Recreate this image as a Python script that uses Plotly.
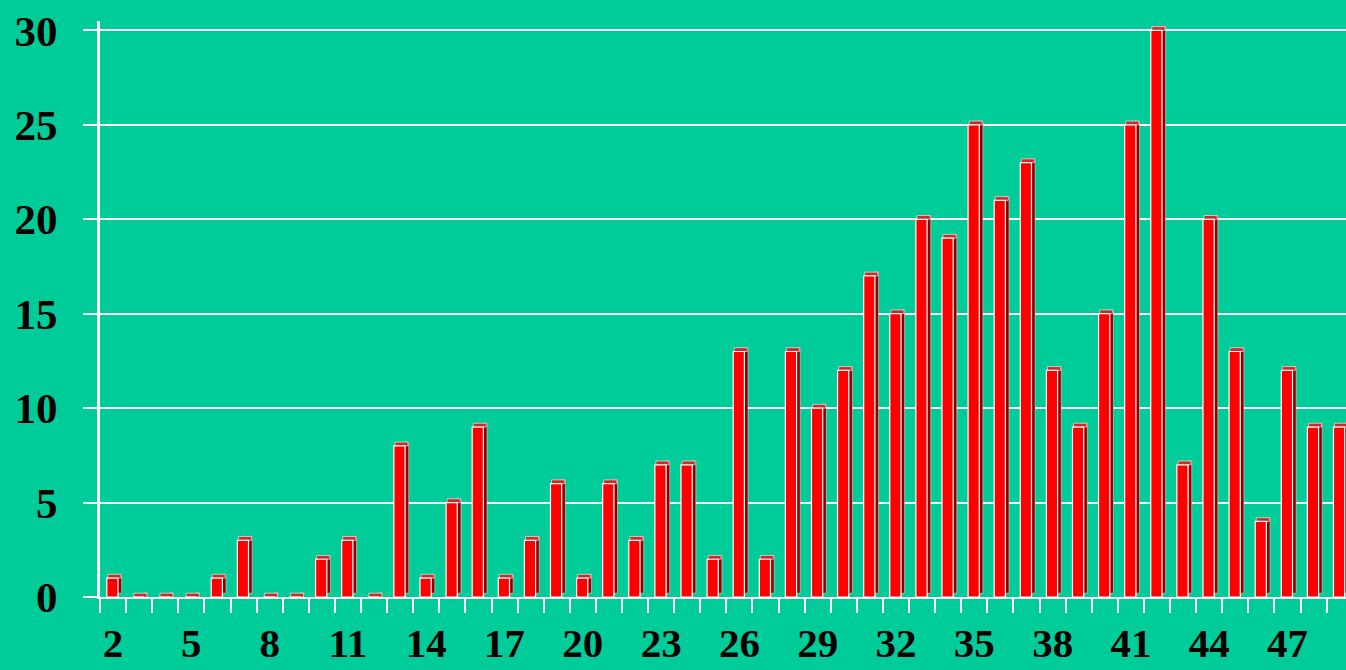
import plotly.graph_objects as go

categories = list(range(2, 50))
values = [1, 0, 0, 0, 1, 3, 0, 0, 2, 3, 0, 8, 1, 5, 9, 1, 3, 6, 1, 6, 3, 7, 7, 2,
          13, 2, 13, 10, 12, 17, 15, 20, 19, 25, 21, 23, 12, 9, 15, 25, 30, 7, 20,
          13, 4, 12, 9, 9]
x_tick_vals = list(range(2, 50, 3))
y_tick_vals = [0, 5, 10, 15, 20, 25, 30]

BG = "#00CC99"
FONT = dict(family="Liberation Serif, Times New Roman, serif", size=43, color="black",
            weight="bold")
XFONT = dict(FONT, size=41)
DEPTH = 0.2

fig = go.Figure()
# side face (dark)
fig.add_trace(go.Bar(x=categories, y=values, base=DEPTH, width=0.17, offset=0.16,
                     marker=dict(color="#900000", line=dict(color="#F0D0D0", width=0.6)),
                     hoverinfo="skip"))
# top face
fig.add_trace(go.Bar(x=categories, y=[DEPTH] * len(values), base=values, width=0.5,
                     offset=-0.2,
                     marker=dict(color="#D02828", line=dict(color="white", width=0.6)),
                     hoverinfo="skip"))
# front face
fig.add_trace(go.Bar(x=categories, y=values, width=0.43, offset=-0.24,
                     marker=dict(color="#FF0000", line=dict(color="white", width=1.2))))

fig.update_layout(
    width=1346, height=670,
    margin=dict(l=100, r=0, t=21, b=73),
    paper_bgcolor=BG, plot_bgcolor=BG,
    barmode="overlay", showlegend=False,
    font=FONT,
    xaxis=dict(range=[1.5, 49.24], tickmode="array", tickvals=x_tick_vals,
               ticks="", showgrid=False, zeroline=False, automargin=False,
               showline=True, linecolor="white", linewidth=2,
               ticklabelstandoff=9, tickfont=XFONT,
               minor=dict(tickmode="linear", tick0=1.5, dtick=1, ticks="outside",
                          ticklen=14, tickcolor="white", tickwidth=1.5, showgrid=False)),
    yaxis=dict(range=[0, 30.5], tickmode="array", tickvals=y_tick_vals,
               ticks="outside", ticklen=14, tickcolor="white", tickwidth=2,
               showgrid=True, gridcolor="white", gridwidth=2, zeroline=False,
               automargin=False,
               showline=True, linecolor="white", linewidth=3,
               ticklabelstandoff=17, tickfont=FONT),
)

fig.write_html("out.html", config={"displayModeBar": False},
               post_script="document.body.style.margin='0';")
